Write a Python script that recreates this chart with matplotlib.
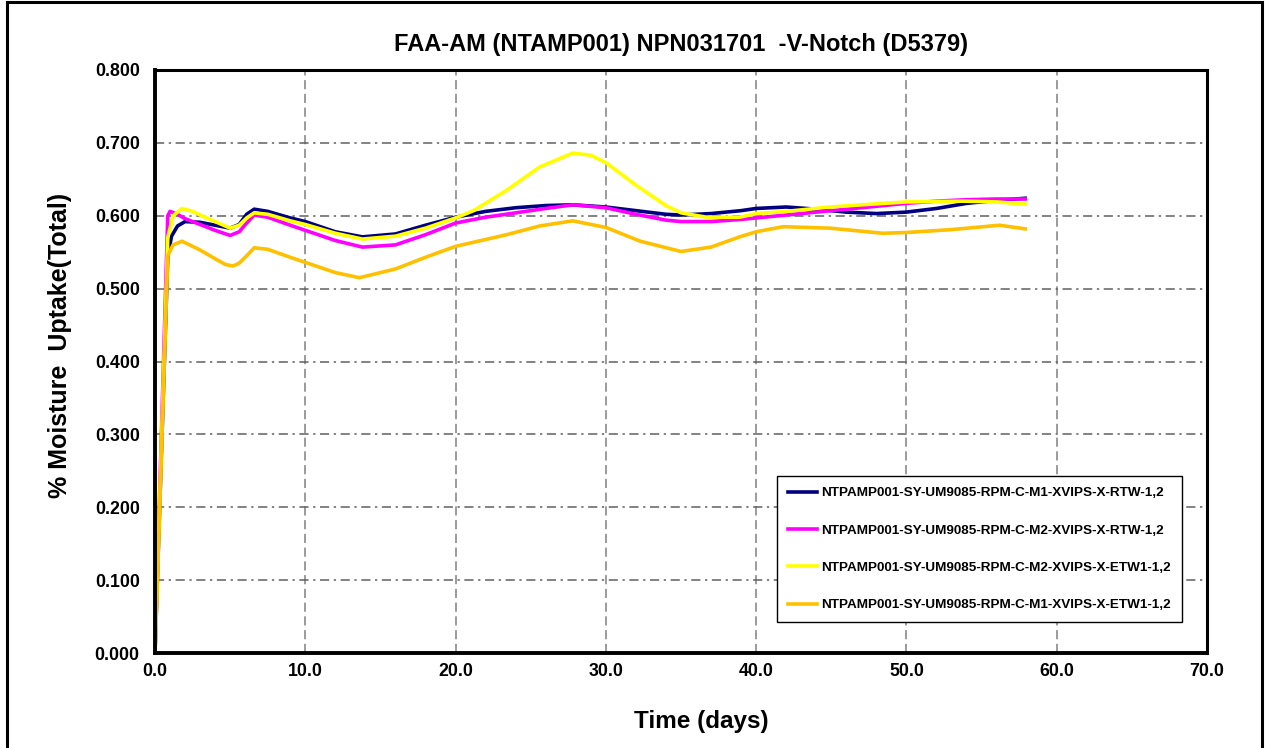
import matplotlib
matplotlib.use('Agg')
import matplotlib.pyplot as plt
from matplotlib.patches import Rectangle

plt.rcParams['font.family'] = ['Liberation Sans', 'DejaVu Sans']
plt.rcParams['font.weight'] = 'bold'

# series (days, % moisture uptake)
t_rtw_m1 = [0, 0.85, 1.1, 1.5, 2.0, 3, 4, 5, 5.6, 6.1, 6.6, 7.5, 9, 10, 12, 13.8, 16, 18, 20, 22,
            24, 26, 27.8, 30, 32, 34, 35, 37, 39, 40, 42, 44, 46, 48, 50, 52, 54, 56, 57.9]
v_rtw_m1 = [0.0, 0.545, 0.572, 0.586, 0.592, 0.591, 0.587, 0.583, 0.588, 0.602, 0.609, 0.606,
            0.597, 0.592, 0.578, 0.571, 0.575, 0.587, 0.598, 0.606, 0.611, 0.614, 0.615, 0.612,
            0.607, 0.602, 0.601, 0.603, 0.607, 0.610, 0.612, 0.609, 0.605, 0.603, 0.605, 0.610,
            0.617, 0.621, 0.624]

t_rtw_m2 = [0, 0.85, 1.0, 1.5, 2.0, 3, 4, 5, 5.6, 6.1, 6.6, 7.5, 9, 10, 12, 13.8, 16, 18, 20, 22,
            24, 26, 27.8, 30, 32, 34, 35, 37, 39, 40, 42, 44, 46, 48, 50, 52, 54, 56, 57.9]
v_rtw_m2 = [0.0, 0.600, 0.606, 0.602, 0.596, 0.588, 0.580, 0.573, 0.578, 0.590, 0.601, 0.598,
            0.587, 0.580, 0.566, 0.557, 0.560, 0.574, 0.590, 0.598, 0.604, 0.610, 0.615, 0.611,
            0.602, 0.594, 0.592, 0.592, 0.595, 0.597, 0.601, 0.605, 0.609, 0.613, 0.617, 0.620,
            0.622, 0.623, 0.623]

t_etw_m2 = [0, 0.85, 1.2, 1.8, 2.5, 3, 4, 5, 5.6, 6.1, 6.6, 7.5, 9, 10, 12, 13.8, 16, 18, 20, 21.2,
            23.4, 25.6, 27.8, 29, 30, 32, 34, 35, 36.7, 38.9, 40, 42, 44.9, 47, 50, 53.8, 56, 57.9]
v_etw_m2 = [0.0, 0.570, 0.600, 0.610, 0.606, 0.601, 0.592, 0.583, 0.587, 0.597, 0.604, 0.602,
            0.593, 0.588, 0.576, 0.568, 0.572, 0.583, 0.597, 0.607, 0.635, 0.667, 0.686, 0.683,
            0.673, 0.642, 0.614, 0.604, 0.598, 0.598, 0.603, 0.606, 0.612, 0.615, 0.619, 0.620,
            0.619, 0.616]

t_etw_m1 = [0, 0.85, 1.2, 1.8, 3, 4, 4.7, 5.2, 5.6, 6.1, 6.6, 7.5, 9, 10, 12, 13.6, 16, 18, 20, 23.4,
            25.6, 27.8, 30, 32.3, 35, 37, 38.9, 40, 41.8, 44.9, 48.4, 50, 53, 56.2, 57.9]
v_etw_m1 = [0.0, 0.545, 0.560, 0.565, 0.553, 0.541, 0.533, 0.531, 0.535, 0.545, 0.556, 0.554,
            0.543, 0.536, 0.522, 0.515, 0.527, 0.543, 0.558, 0.574, 0.586, 0.593, 0.584, 0.565,
            0.551, 0.557, 0.571, 0.578, 0.585, 0.583, 0.576, 0.577, 0.581, 0.587, 0.582]

labels = ['NTPAMP001-SY-UM9085-RPM-C-M1-XVIPS-X-RTW-1,2',
          'NTPAMP001-SY-UM9085-RPM-C-M2-XVIPS-X-RTW-1,2',
          'NTPAMP001-SY-UM9085-RPM-C-M2-XVIPS-X-ETW1-1,2',
          'NTPAMP001-SY-UM9085-RPM-C-M1-XVIPS-X-ETW1-1,2']
colors = ['#000080', '#FF00FF', '#FFFF00', '#FFC000']

fig = plt.figure(figsize=(12.65, 7.48), dpi=100)
ax = fig.add_axes([155/1265, 95/748, 1052/1265, 583/748])

series = [(t_rtw_m1, v_rtw_m1), (t_rtw_m2, v_rtw_m2), (t_etw_m2, v_etw_m2), (t_etw_m1, v_etw_m1)]
for (t, v), c, lab in zip(series, colors, labels):
    ax.plot(t, v, color=c, lw=2.6, label=lab, solid_joinstyle='round')

ax.set_xlim(0, 70)
ax.set_ylim(0, 0.8)
ax.set_xticks([0, 10, 20, 30, 40, 50, 60, 70])
ax.set_yticks([0, 0.1, 0.2, 0.3, 0.4, 0.5, 0.6, 0.7, 0.8])
ax.set_xticklabels(['%.1f' % x for x in ax.get_xticks()])
ax.set_yticklabels(['%.3f' % y for y in ax.get_yticks()])
ax.tick_params(axis='y', length=0, labelsize=12.8, pad=11)
ax.tick_params(axis='x', length=0, labelsize=12.8, pad=7)
for lab in ax.get_xticklabels() + ax.get_yticklabels():
    lab.set_fontweight('bold')

ax.xaxis.grid(True, color='#808080', lw=1.1, linestyle=(0, (6, 3)))
ax.yaxis.grid(True, color='#606060', lw=1.1, linestyle=(0, (6, 3, 1.5, 3)))
ax.set_axisbelow(True)

for s in ['left', 'bottom']:
    ax.spines[s].set_linewidth(2.8)
for s in ['top', 'right']:
    ax.spines[s].set_linewidth(2.2)

ax.set_title('FAA-AM (NTAMP001) NPN031701  -V-Notch (D5379)', fontsize=17, fontweight='bold', pad=14)
ax.set_xlabel('Time (days)', fontsize=17.5, fontweight='bold', va='center')
ax.set_ylabel('% Moisture  Uptake(Total)', fontsize=18, fontweight='bold', va='center')
ax.xaxis.set_label_coords(0.519, -0.118)
ax.yaxis.set_label_coords(-0.090, 0.528)

leg = ax.legend(loc='lower left', bbox_to_anchor=(0.591, 0.053), borderaxespad=0,
                prop={'size': 9.7, 'weight': 'bold'}, labelspacing=1.85, handlelength=2.2,
                handletextpad=0.3, borderpad=0.8, fancybox=False, framealpha=1)
leg.get_frame().set_edgecolor('black')
leg.get_frame().set_linewidth(1.0)

fig.patches.append(Rectangle((7/1265, -0.02), 1255/1265, 1.017, transform=fig.transFigure,
                             fill=False, edgecolor='black', lw=2.2))

fig.savefig('out.png', dpi=100)
